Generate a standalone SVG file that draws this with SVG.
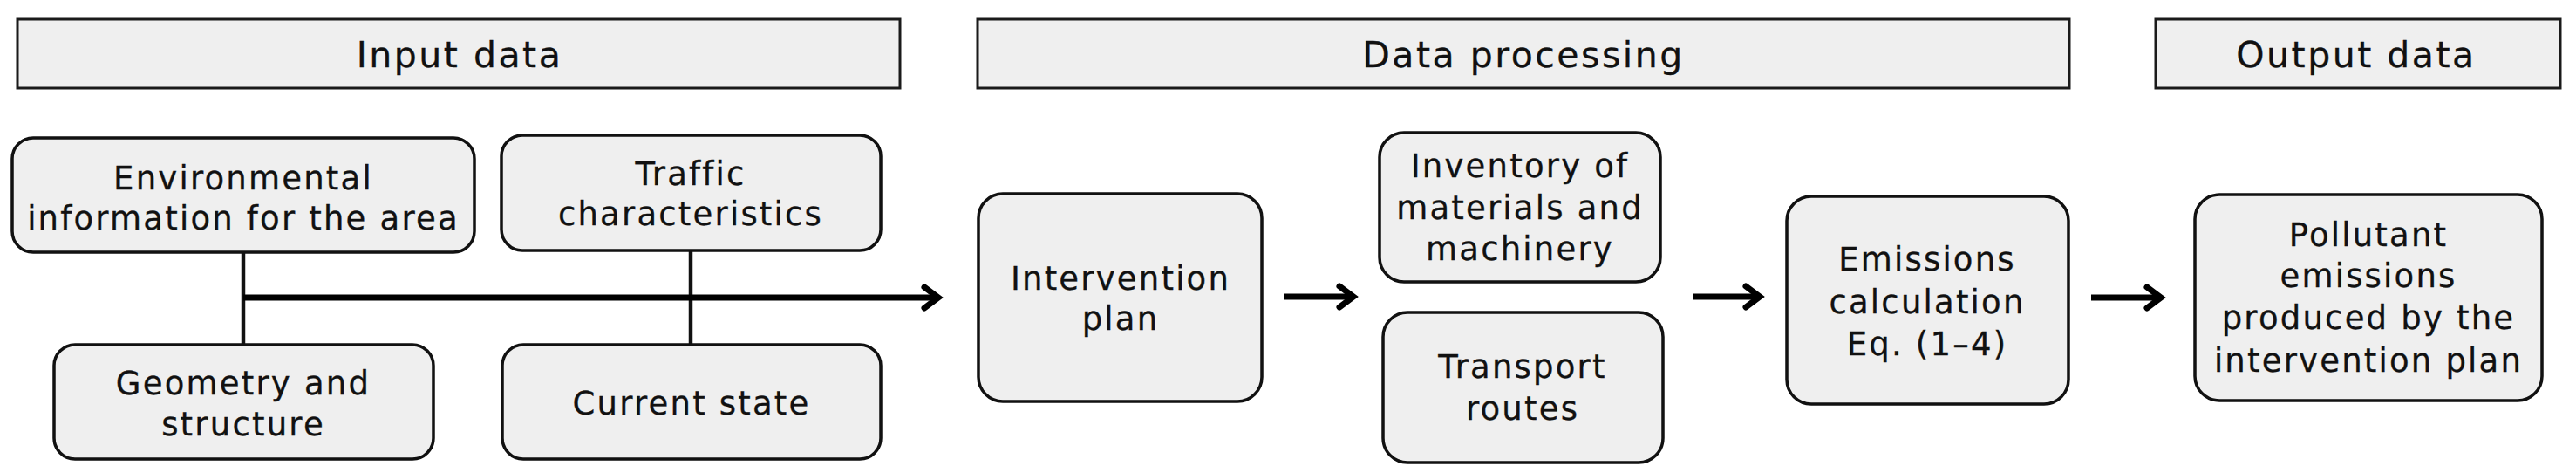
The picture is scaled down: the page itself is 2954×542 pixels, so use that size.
<svg xmlns="http://www.w3.org/2000/svg" width="2954" height="542" viewBox="0 0 2954 542">
<style>
.hdr{fill:#efefef;stroke:#1a1a1a;stroke-width:3}
.box{fill:#efefef;stroke:#111;stroke-width:3.5}
.ht{font-family:"DejaVu Sans",sans-serif;font-size:41px;letter-spacing:2.5px;fill:#111;stroke:#111;stroke-width:0.3;text-anchor:middle}
.t{font-family:"DejaVu Sans",sans-serif;font-size:37px;letter-spacing:2.2px;fill:#111;stroke:#111;stroke-width:0.3;text-anchor:middle}
.thin{fill:none;stroke:#111;stroke-width:4.5}
.arr{fill:none;stroke:#000;stroke-width:7;marker-end:url(#chev)}
</style>
<defs>
<marker id="chev" markerUnits="userSpaceOnUse" viewBox="0 0 30 30" markerWidth="30" markerHeight="30" refX="22" refY="15" orient="auto" overflow="visible">
<path d="M6,3 L22,15 L6,27" fill="none" stroke="#000" stroke-width="7" stroke-linecap="round" stroke-linejoin="miter"/>
</marker>
</defs>
<g id="hdr-input"><rect class="hdr" x="20" y="22" width="1012" height="79"/><text class="ht" x="527" y="77">Input data</text></g>
<g id="hdr-processing"><rect class="hdr" x="1121" y="22" width="1252" height="79"/><text class="ht" x="1747" y="77">Data processing</text></g>
<g id="hdr-output"><rect class="hdr" x="2472" y="22" width="464" height="79"/><text class="ht" x="2702" y="77">Output data</text></g>
<g id="connectors">
<path class="thin" d="M279,290 V395"/>
<path class="thin" d="M792,287 V395"/>
<path class="arr" d="M279,341 H1076"/>
<path class="arr" d="M1472,340 H1552"/>
<path class="arr" d="M1941,340 H2018"/>
<path class="arr" d="M2398,341 H2478"/>
</g>
<g id="n-env"><rect class="box" x="14" y="158" width="530" height="131" rx="24"/><text class="t" x="279" y="217">Environmental</text><text class="t" x="279" y="263">information for the area</text></g>
<g id="n-traffic"><rect class="box" x="575" y="155" width="435" height="132" rx="24"/><text class="t" x="792" y="212">Traffic</text><text class="t" x="792" y="258">characteristics</text></g>
<g id="n-geometry"><rect class="box" x="62" y="395" width="435" height="131" rx="24"/><text class="t" x="279" y="452">Geometry and</text><text class="t" x="279" y="499">structure</text></g>
<g id="n-current"><rect class="box" x="576" y="395" width="434" height="131" rx="24"/><text class="t" x="793" y="475">Current state</text></g>
<g id="n-intervention"><rect class="box" x="1122" y="222" width="325" height="238" rx="28"/><text class="t" x="1285" y="332">Intervention</text><text class="t" x="1285" y="378">plan</text></g>
<g id="n-inventory"><rect class="box" x="1582" y="152" width="322" height="171" rx="28"/><text class="t" x="1743" y="203">Inventory of</text><text class="t" x="1743" y="251">materials and</text><text class="t" x="1743" y="298">machinery</text></g>
<g id="n-transport"><rect class="box" x="1586" y="358" width="321" height="172" rx="28"/><text class="t" x="1746" y="433">Transport</text><text class="t" x="1746" y="481">routes</text></g>
<g id="n-emissions"><rect class="box" x="2049" y="225" width="323" height="238" rx="28"/><text class="t" x="2210" y="310">Emissions</text><text class="t" x="2210" y="359">calculation</text><text class="t" x="2210" y="407">Eq. (1–4)</text></g>
<g id="n-pollutant"><rect class="box" x="2517" y="223" width="398" height="236" rx="28"/><text class="t" x="2716" y="282">Pollutant</text><text class="t" x="2716" y="329">emissions</text><text class="t" x="2716" y="377">produced by the</text><text class="t" x="2716" y="426">intervention plan</text></g>
</svg>
